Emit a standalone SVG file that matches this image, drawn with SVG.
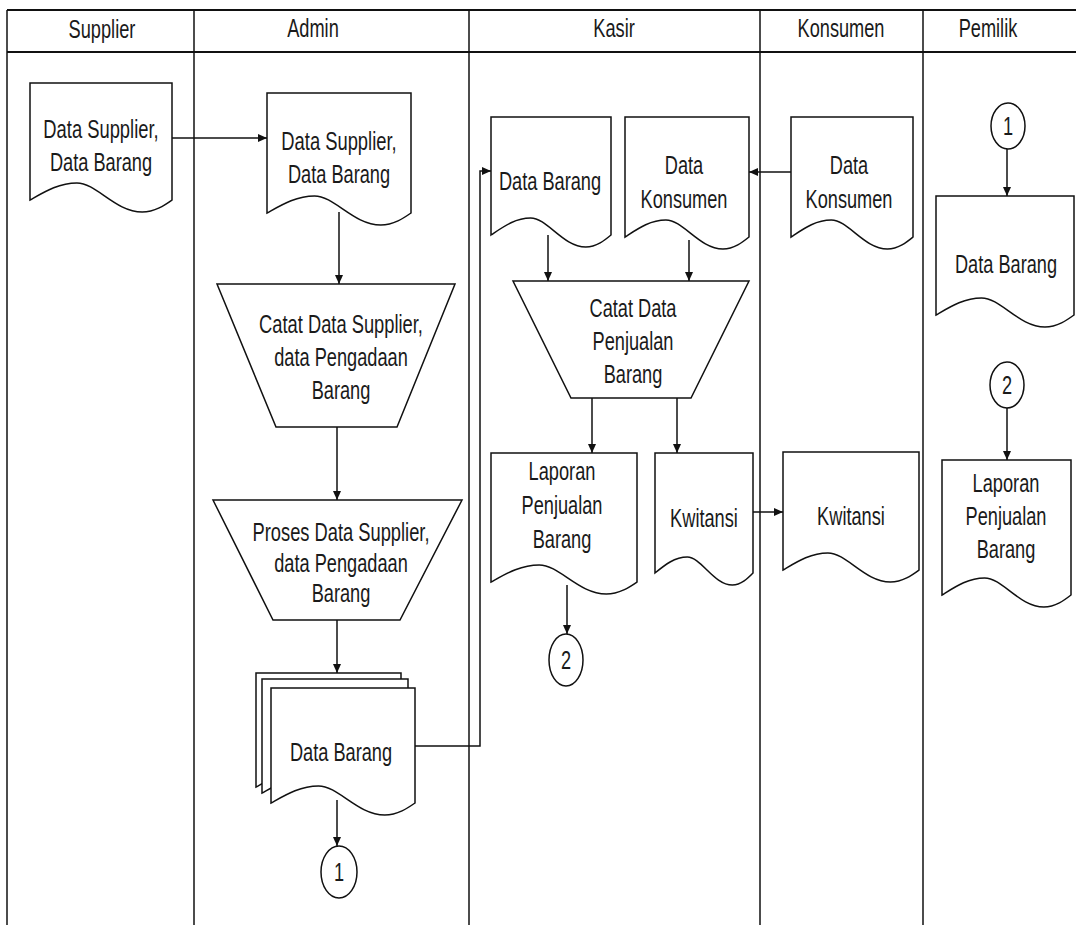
<svg xmlns="http://www.w3.org/2000/svg" width="1076" height="925" viewBox="0 0 1076 925">
<defs>
<style>
.lane{stroke:#111;stroke-width:1.5;fill:none}
.hdr{stroke:#111;stroke-width:2;fill:none}
.shape{fill:#fff;stroke:#111;stroke-width:1.5}
.conn{fill:none;stroke:#111;stroke-width:1.5}
.t{font-family:"Liberation Sans",Arial,sans-serif;font-size:25px;fill:#1a1a1a;text-anchor:middle}
</style>
<marker id="ah" viewBox="0 0 9 8" refX="9" refY="4" markerWidth="9" markerHeight="8" markerUnits="userSpaceOnUse" orient="auto">
<path d="M0,0 L9,4 L0,8 Z" fill="#111"/>
</marker>
</defs>
<rect width="1076" height="925" fill="#fff"/>
<g id="lanes">
<line class="hdr" x1="7" y1="10" x2="1076" y2="10"/>
<line class="hdr" x1="7" y1="52" x2="1076" y2="52"/>
<line class="lane" x1="7" y1="10" x2="7" y2="925"/>
<line class="lane" x1="194" y1="10" x2="194" y2="925"/>
<line class="lane" x1="469" y1="10" x2="469" y2="925"/>
<line class="lane" x1="760" y1="10" x2="760" y2="925"/>
<line class="lane" x1="923" y1="10" x2="923" y2="925"/>
<text class="t" x="102" y="38" textLength="66.8" lengthAdjust="spacingAndGlyphs">Supplier</text>
<text class="t" x="313" y="37" textLength="51.6" lengthAdjust="spacingAndGlyphs">Admin</text>
<text class="t" x="614" y="37" textLength="41.5" lengthAdjust="spacingAndGlyphs">Kasir</text>
<text class="t" x="841" y="37" textLength="87" lengthAdjust="spacingAndGlyphs">Konsumen</text>
<text class="t" x="988" y="37" textLength="58.6" lengthAdjust="spacingAndGlyphs">Pemilik</text>
</g>
<g id="connectors">
<path class="conn" d="M172,138 H267" marker-end="url(#ah)"/>
<path class="conn" d="M339,212 V284" marker-end="url(#ah)"/>
<path class="conn" d="M337,427 V500" marker-end="url(#ah)"/>
<path class="conn" d="M337,620 V673" marker-end="url(#ah)"/>
<path class="conn" d="M337,800 V846" marker-end="url(#ah)"/>
<path class="conn" d="M415,746 H480 V171 H491" marker-end="url(#ah)"/>
<path class="conn" d="M791,172 H749" marker-end="url(#ah)"/>
<path class="conn" d="M548,235 V281" marker-end="url(#ah)"/>
<path class="conn" d="M689,240 V281" marker-end="url(#ah)"/>
<path class="conn" d="M592,398 V453" marker-end="url(#ah)"/>
<path class="conn" d="M677,398 V453" marker-end="url(#ah)"/>
<path class="conn" d="M753,512 H783" marker-end="url(#ah)"/>
<path class="conn" d="M567,585 V634" marker-end="url(#ah)"/>
<path class="conn" d="M1007,149 V196" marker-end="url(#ah)"/>
<path class="conn" d="M1007,408 V460" marker-end="url(#ah)"/>
</g>
<g id="supplier-doc">
<path class="shape" d="M30,83 H172 V200 C164.9,205 155,212 142.2,212 C115.2,212 96.7,183 76.9,183 C58.4,183 44.2,192 30,200 Z"/>
<text class="t" x="101" y="138" textLength="115.3" lengthAdjust="spacingAndGlyphs">Data Supplier,</text>
<text class="t" x="101" y="171" textLength="102.2" lengthAdjust="spacingAndGlyphs">Data Barang</text>
</g>
<g id="admin-doc">
<path class="shape" d="M267,93 H411 V213 C403.8,218 393.7,225 380.8,225 C353.4,225 334.7,196 314.5,196 C295.8,196 281.4,205 267,213 Z"/>
<text class="t" x="339" y="150" textLength="115.3" lengthAdjust="spacingAndGlyphs">Data Supplier,</text>
<text class="t" x="339" y="183" textLength="102.2" lengthAdjust="spacingAndGlyphs">Data Barang</text>
</g>
<g id="catat-supplier">
<path class="shape" d="M217,284 H455 L397,427 H276 Z"/>
<text class="t" x="341" y="333" textLength="163.9" lengthAdjust="spacingAndGlyphs">Catat Data Supplier,</text>
<text class="t" x="341" y="366" textLength="133.6" lengthAdjust="spacingAndGlyphs">data Pengadaan</text>
<text class="t" x="341" y="399" textLength="58.7" lengthAdjust="spacingAndGlyphs">Barang</text>
</g>
<g id="proses-supplier">
<path class="shape" d="M213,500 H462 L400,620 H273 Z"/>
<text class="t" x="341" y="541" textLength="177" lengthAdjust="spacingAndGlyphs">Proses Data Supplier,</text>
<text class="t" x="341" y="572" textLength="133.6" lengthAdjust="spacingAndGlyphs">data Pengadaan</text>
<text class="t" x="341" y="602" textLength="58.7" lengthAdjust="spacingAndGlyphs">Barang</text>
</g>
<g id="admin-data-barang">
<path class="shape" d="M256,673 H401 V787 C393.8,792 383.6,799 370.6,799 C343,799 324.2,770 303.9,770 C285,770 270.5,779 256,787 Z"/>
<path class="shape" d="M262,679 H408 V793 C400.7,798 390.5,805 377.3,805 C349.6,805 330.6,776 310.2,776 C291.2,776 276.6,785 262,793 Z"/>
<path class="shape" d="M271,688 H415 V803 C407.8,808 397.7,815 384.8,815 C357.4,815 338.7,786 318.5,786 C299.8,786 285.4,795 271,803 Z"/>
<text class="t" x="341" y="761" textLength="102.2" lengthAdjust="spacingAndGlyphs">Data Barang</text>
</g>
<g id="conn-1-admin">
<ellipse class="shape" cx="339" cy="872" rx="18" ry="26"/>
<text class="t" x="339" y="881" textLength="10.1" lengthAdjust="spacingAndGlyphs">1</text>
</g>
<g id="kasir-data-barang">
<path class="shape" d="M491,117 H611 V235 C605,240 596.6,247 585.8,247 C563,247 547.4,218 530.6,218 C515,218 503,227 491,235 Z"/>
<text class="t" x="550" y="190" textLength="102.2" lengthAdjust="spacingAndGlyphs">Data Barang</text>
</g>
<g id="kasir-data-konsumen">
<path class="shape" d="M625,117 H749 V237 C742.8,242 734.1,249 723,249 C699.4,249 683.3,220 665.9,220 C649.8,220 637.4,229 625,237 Z"/>
<text class="t" x="684" y="174" textLength="38.4" lengthAdjust="spacingAndGlyphs">Data</text>
<text class="t" x="684" y="208" textLength="87" lengthAdjust="spacingAndGlyphs">Konsumen</text>
</g>
<g id="konsumen-data-konsumen">
<path class="shape" d="M791,117 H913 V237 C906.9,242 898.4,249 887.4,249 C864.2,249 848.3,220 831.3,220 C815.4,220 803.2,229 791,237 Z"/>
<text class="t" x="849" y="174" textLength="38.4" lengthAdjust="spacingAndGlyphs">Data</text>
<text class="t" x="849" y="208" textLength="87" lengthAdjust="spacingAndGlyphs">Konsumen</text>
</g>
<g id="catat-penjualan">
<path class="shape" d="M513,281 H749 L691,398 H571 Z"/>
<text class="t" x="633" y="317" textLength="87" lengthAdjust="spacingAndGlyphs">Catat Data</text>
<text class="t" x="633" y="350" textLength="80.9" lengthAdjust="spacingAndGlyphs">Penjualan</text>
<text class="t" x="633" y="383" textLength="58.7" lengthAdjust="spacingAndGlyphs">Barang</text>
</g>
<g id="kasir-laporan">
<path class="shape" d="M491,453 H637 V582 C629.7,587 619.5,594 606.3,594 C578.6,594 559.6,565 539.2,565 C520.2,565 505.6,574 491,582 Z"/>
<text class="t" x="562" y="480" textLength="66.8" lengthAdjust="spacingAndGlyphs">Laporan</text>
<text class="t" x="562" y="514" textLength="80.9" lengthAdjust="spacingAndGlyphs">Penjualan</text>
<text class="t" x="562" y="548" textLength="58.7" lengthAdjust="spacingAndGlyphs">Barang</text>
</g>
<g id="kasir-kwitansi">
<path class="shape" d="M655,453 H753 V573 C748.1,578 741.2,585 732.4,585 C713.8,585 701.1,557 687.3,557 C674.6,557 664.8,565 655,573 Z"/>
<text class="t" x="704" y="527" textLength="67.8" lengthAdjust="spacingAndGlyphs">Kwitansi</text>
</g>
<g id="conn-2-kasir">
<ellipse class="shape" cx="566" cy="660" rx="17" ry="26"/>
<text class="t" x="566" y="669" textLength="10.1" lengthAdjust="spacingAndGlyphs">2</text>
</g>
<g id="konsumen-kwitansi">
<path class="shape" d="M783,452 H919 V570 C912.2,575 902.7,582 890.4,582 C864.6,582 846.9,553 827.9,553 C810.2,553 796.6,562 783,570 Z"/>
<text class="t" x="851" y="525" textLength="67.8" lengthAdjust="spacingAndGlyphs">Kwitansi</text>
</g>
<g id="conn-1-pemilik">
<ellipse class="shape" cx="1008" cy="126" rx="17" ry="23"/>
<text class="t" x="1008" y="135" textLength="10.1" lengthAdjust="spacingAndGlyphs">1</text>
</g>
<g id="pemilik-data-barang">
<path class="shape" d="M936,196 H1074 V315 C1067.1,320 1057.4,327 1045,327 C1018.8,327 1000.9,298 981.5,298 C963.6,298 949.8,307 936,315 Z"/>
<text class="t" transform="translate(1006,273) scale(0.728,1)" x="0" y="0">Data Barang</text>
</g>
<g id="conn-2-pemilik">
<ellipse class="shape" cx="1007" cy="385" rx="17" ry="23"/>
<text class="t" x="1007" y="394" textLength="10.1" lengthAdjust="spacingAndGlyphs">2</text>
</g>
<g id="pemilik-laporan">
<path class="shape" d="M942,460 H1071 V595 C1064.6,600 1055.5,607 1043.9,607 C1019.4,607 1002.6,578 984.6,578 C967.8,578 954.9,587 942,595 Z"/>
<text class="t" x="1006" y="492" textLength="66.8" lengthAdjust="spacingAndGlyphs">Laporan</text>
<text class="t" x="1006" y="525" textLength="80.9" lengthAdjust="spacingAndGlyphs">Penjualan</text>
<text class="t" x="1006" y="558" textLength="58.7" lengthAdjust="spacingAndGlyphs">Barang</text>
</g>
</svg>
